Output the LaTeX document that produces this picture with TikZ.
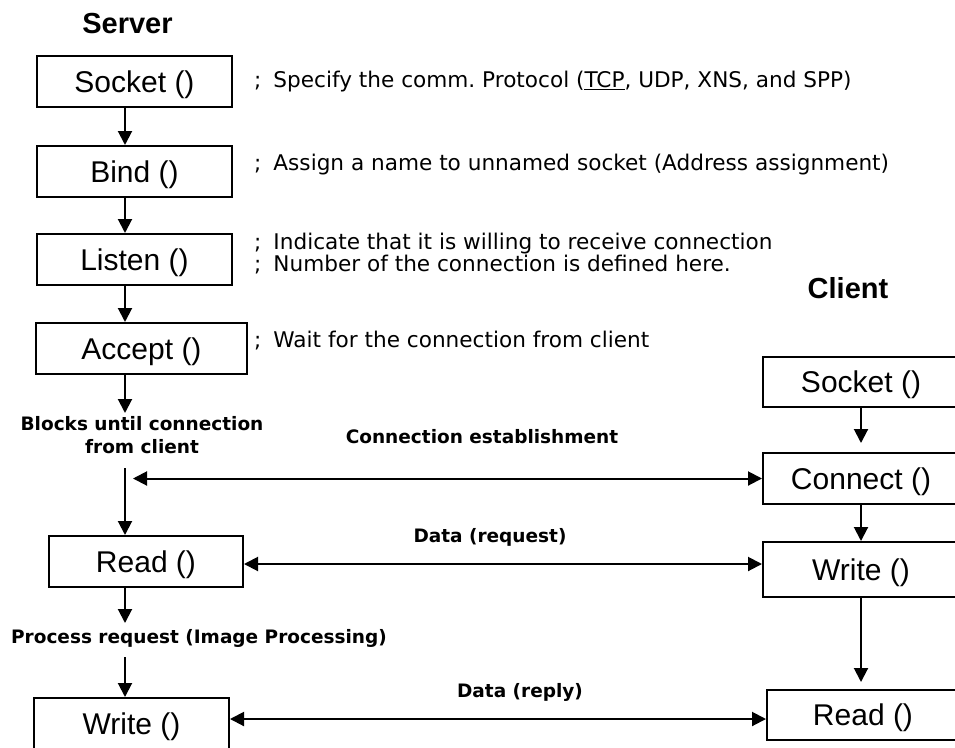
\documentclass[tikz,border=0pt]{standalone}
\usepackage{fontspec}
\setmainfont{Liberation Sans}
\newfontfamily\notefont{DejaVu Sans}
\usetikzlibrary{arrows.meta}
\frenchspacing
% gap after the semicolon that opens each remark
\newcommand\notelead{;\hspace{12pt}}

\begin{document}
\begin{tikzpicture}[x=1pt,y=-1pt,
  fn/.style={draw, line width=2pt, inner sep=0pt, text height=21.5pt, text depth=0pt,
    font=\fontsize{30}{36}\selectfont},
  arr/.style={line width=2pt, -{Triangle[length=14pt,width=14pt]}},
  twoway/.style={line width=2pt, {Triangle[length=14pt,width=14pt]}-{Triangle[length=14pt,width=14pt]}},
  ttl/.style={font=\fontsize{29}{34}\selectfont\bfseries, anchor=base, inner sep=0pt},
  note/.style={font=\notefont\fontsize{21.6}{26}\selectfont, anchor=base west, inner sep=0pt},
  lbl/.style={font=\notefont\fontsize{18.5}{23}\selectfont\bfseries, inner sep=0pt, align=center}
]
\useasboundingbox (0,0) rectangle (955,747);

% column titles
\node[ttl] (server) at (127.5,33) {Server};
\node[ttl] (client) at (848,298) {Client};

% server side calls
\node[fn, minimum width=195pt, minimum height=51pt] (ssock) at (134.5,81.5) {Socket ()};
\node[fn, minimum width=195pt, minimum height=51pt] (sbind) at (134.5,171.5) {Bind ()};
\node[fn, minimum width=195pt, minimum height=51pt] (slist) at (134.5,259.5) {Listen ()};
\node[fn, minimum width=211pt, minimum height=51pt] (sacc) at (141.5,348.5) {Accept ()};
\node[fn, minimum width=194pt, minimum height=51pt] (sread) at (146,561.5) {Read ()};
\node[fn, minimum width=195pt, minimum height=51pt] (swrite) at (131.5,723.5) {Write ()};

% client side calls
\node[fn, minimum width=196pt, minimum height=50pt] (csock) at (861,382) {Socket ()};
\node[fn, minimum width=196pt, minimum height=51pt] (cconn) at (861,478.5) {Connect ()};
\node[fn, minimum width=196pt, minimum height=55pt] (cwrite) at (861,569.5) {Write ()};
\node[fn, minimum width=192pt, minimum height=50pt] (cread) at (863,715) {Read ()};

% remarks on the server calls
\node[note] (n1) at (254,87) {\notelead Specify the comm. Protocol (\underline{TCP}, UDP, XNS, and SPP)};
\node[note] (n2) at (254,170) {\notelead Assign a name to unnamed socket (Address assignment)};
\node[note] (n3) at (254,249) {\notelead Indicate that it is willing to receive connection};
\node[note] (n4) at (254,271) {\notelead Number of the connection is defined here.};
\node[note] (n5) at (254,347) {\notelead Wait for the connection from client};

% labels
\node[lbl, anchor=north] (blocks) at (142,416) {Blocks until connection\\from client};
\node[lbl, anchor=base] (estab) at (482,443) {Connection establishment};
\node[lbl, anchor=base] (req) at (490,542) {Data (request)};
\node[lbl, anchor=base] (proc) at (199,643) {Process request (Image Processing)};
\node[lbl, anchor=base] (rep) at (520,697) {Data (reply)};

% server flow
\coordinate (ax) at (125,0);
\coordinate (accEnd) at (125,413);
\coordinate (blkEnd) at (125,468);
\coordinate (readEnd) at (125,623);
\coordinate (procEnd) at (125,657);
\draw[arr] (ssock.south -| ax) -- (sbind.north -| ax);
\draw[arr] (sbind.south -| ax) -- (slist.north -| ax);
\draw[arr] (slist.south -| ax) -- (sacc.north -| ax);
\draw[arr] (sacc.south -| ax) -- (accEnd);
\draw[arr] (blkEnd) -- (sread.north -| ax);
\draw[arr] (sread.south -| ax) -- (readEnd);
\draw[arr] (procEnd) -- (swrite.north -| ax);

% client flow
\draw[arr, shorten >=9pt] (csock.south) -- (cconn.north);
\draw[arr] (cconn.south) -- (cwrite.north);
\draw[arr, shorten >=7pt] (cwrite.south) -- (cread.north -| cwrite.south);

% exchanges between the two sides
\coordinate (connL) at (133,478.5);
\coordinate (reqy) at (0,564);
\coordinate (repy) at (0,719);
\draw[twoway] (connL) -- (cconn.west);
\draw[twoway] (sread.east |- reqy) -- (cwrite.west |- reqy);
\draw[twoway] (swrite.east |- repy) -- (cread.west |- repy);
\end{tikzpicture}
\end{document}
